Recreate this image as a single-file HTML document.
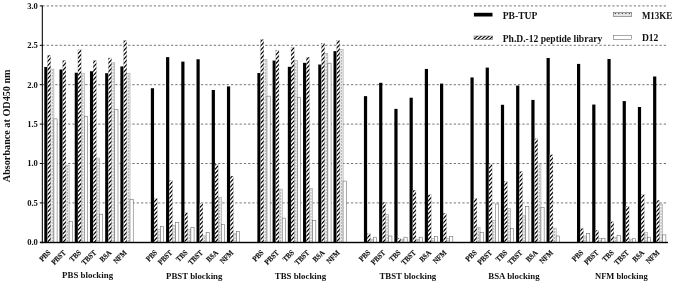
<!DOCTYPE html>
<html><head><meta charset="utf-8"><title>Absorbance chart</title>
<style>
html,body{margin:0;padding:0;background:#fff;}
body{width:675px;height:284px;overflow:hidden;}
svg{display:block;}
text{font-family:"Liberation Serif","DejaVu Serif",serif;font-weight:bold;fill:#111;}
</style></head><body>
<svg width="675" height="284" viewBox="0 0 675 284">
<defs>
<pattern id="hat" patternUnits="userSpaceOnUse" width="3.2" height="4.2">
<rect width="3.2" height="4.2" fill="#fff"/>
<path d="M-1.6,2.1 L1.6,-2.1 M-0.8,5.25 L4.0,-1.05 M1.6,6.300000000000001 L4.800000000000001,2.1" stroke="#000" stroke-width="1.0" shape-rendering="crispEdges"/>
</pattern>
<pattern id="dot" patternUnits="userSpaceOnUse" width="3.2" height="3.4" patternTransform="translate(1.15,0)">
<rect width="3.2" height="3.4" fill="#e6e6e6"/>
<rect x="1.25" y="1.2" width="0.7" height="1.0" fill="#666"/>
</pattern>
</defs>
<rect width="675" height="284" fill="#fff"/>

<line x1="42.4" y1="202.90" x2="667.3" y2="202.90" stroke="#666" stroke-width="0.9" stroke-dasharray="2.3,1.985"/>
<line x1="42.4" y1="163.50" x2="667.3" y2="163.50" stroke="#666" stroke-width="0.9" stroke-dasharray="2.3,1.985"/>
<line x1="42.4" y1="124.10" x2="667.3" y2="124.10" stroke="#666" stroke-width="0.9" stroke-dasharray="2.3,1.985"/>
<line x1="42.4" y1="84.70" x2="667.3" y2="84.70" stroke="#666" stroke-width="0.9" stroke-dasharray="2.3,1.985"/>
<line x1="42.4" y1="45.30" x2="667.3" y2="45.30" stroke="#666" stroke-width="0.9" stroke-dasharray="2.3,1.985"/>
<line x1="42.4" y1="5.90" x2="667.3" y2="5.90" stroke="#666" stroke-width="0.9" stroke-dasharray="2.3,1.985"/>
<rect x="44.30" y="66.97" width="3.20" height="175.33" fill="#000"/>
<rect x="50.70" y="69.10" width="3.20" height="173.20" fill="#eeeeee" stroke="#808080" stroke-width="0.45"/>
<line x1="52.30" y1="241.50" x2="52.30" y2="69.90" stroke="#666" stroke-width="0.7" stroke-dasharray="1.1,1.9"/>
<rect x="53.90" y="118.90" width="3.20" height="123.40" fill="#fff" stroke="#555" stroke-width="0.5"/>
<rect x="59.52" y="69.49" width="3.20" height="172.81" fill="#000"/>
<rect x="65.92" y="165.08" width="3.20" height="77.22" fill="#eeeeee" stroke="#808080" stroke-width="0.45"/>
<line x1="67.52" y1="241.50" x2="67.52" y2="165.88" stroke="#666" stroke-width="0.7" stroke-dasharray="1.1,1.9"/>
<rect x="69.12" y="221.34" width="3.20" height="20.96" fill="#fff" stroke="#555" stroke-width="0.5"/>
<rect x="74.74" y="72.72" width="3.20" height="169.58" fill="#000"/>
<rect x="81.14" y="73.20" width="3.20" height="169.10" fill="#eeeeee" stroke="#808080" stroke-width="0.45"/>
<line x1="82.74" y1="241.50" x2="82.74" y2="74.00" stroke="#666" stroke-width="0.7" stroke-dasharray="1.1,1.9"/>
<rect x="84.34" y="116.22" width="3.20" height="126.08" fill="#fff" stroke="#555" stroke-width="0.5"/>
<rect x="89.96" y="71.23" width="3.20" height="171.07" fill="#000"/>
<rect x="96.36" y="157.98" width="3.20" height="84.32" fill="#eeeeee" stroke="#808080" stroke-width="0.45"/>
<line x1="97.96" y1="241.50" x2="97.96" y2="158.78" stroke="#666" stroke-width="0.7" stroke-dasharray="1.1,1.9"/>
<rect x="99.56" y="214.17" width="3.20" height="28.13" fill="#fff" stroke="#555" stroke-width="0.5"/>
<rect x="105.18" y="73.20" width="3.20" height="169.10" fill="#000"/>
<rect x="111.58" y="62.87" width="3.20" height="179.43" fill="#eeeeee" stroke="#808080" stroke-width="0.45"/>
<line x1="113.18" y1="241.50" x2="113.18" y2="63.67" stroke="#666" stroke-width="0.7" stroke-dasharray="1.1,1.9"/>
<rect x="114.78" y="109.52" width="3.20" height="132.78" fill="#fff" stroke="#555" stroke-width="0.5"/>
<rect x="120.40" y="66.42" width="3.20" height="175.88" fill="#000"/>
<rect x="126.80" y="73.20" width="3.20" height="169.10" fill="#eeeeee" stroke="#808080" stroke-width="0.45"/>
<line x1="128.40" y1="241.50" x2="128.40" y2="74.00" stroke="#666" stroke-width="0.7" stroke-dasharray="1.1,1.9"/>
<rect x="130.00" y="199.51" width="3.20" height="42.79" fill="#fff" stroke="#555" stroke-width="0.5"/>
<rect x="150.84" y="88.25" width="3.20" height="154.05" fill="#000"/>
<rect x="157.24" y="229.69" width="3.20" height="12.61" fill="#eeeeee" stroke="#808080" stroke-width="0.45"/>
<line x1="158.84" y1="241.50" x2="158.84" y2="230.49" stroke="#666" stroke-width="0.7" stroke-dasharray="1.1,1.9"/>
<rect x="160.44" y="226.54" width="3.20" height="15.76" fill="#fff" stroke="#555" stroke-width="0.5"/>
<rect x="166.06" y="57.12" width="3.20" height="185.18" fill="#000"/>
<rect x="172.46" y="225.20" width="3.20" height="17.10" fill="#eeeeee" stroke="#808080" stroke-width="0.45"/>
<line x1="174.06" y1="241.50" x2="174.06" y2="226.00" stroke="#666" stroke-width="0.7" stroke-dasharray="1.1,1.9"/>
<rect x="175.66" y="222.60" width="3.20" height="19.70" fill="#fff" stroke="#555" stroke-width="0.5"/>
<rect x="181.28" y="61.61" width="3.20" height="180.69" fill="#000"/>
<rect x="187.68" y="229.69" width="3.20" height="12.61" fill="#eeeeee" stroke="#808080" stroke-width="0.45"/>
<line x1="189.28" y1="241.50" x2="189.28" y2="230.49" stroke="#666" stroke-width="0.7" stroke-dasharray="1.1,1.9"/>
<rect x="190.88" y="227.49" width="3.20" height="14.81" fill="#fff" stroke="#555" stroke-width="0.5"/>
<rect x="196.50" y="59.25" width="3.20" height="183.05" fill="#000"/>
<rect x="202.90" y="235.92" width="3.20" height="6.38" fill="#eeeeee" stroke="#808080" stroke-width="0.45"/>
<line x1="204.50" y1="241.50" x2="204.50" y2="236.72" stroke="#666" stroke-width="0.7" stroke-dasharray="1.1,1.9"/>
<rect x="206.10" y="232.29" width="3.20" height="10.01" fill="#fff" stroke="#555" stroke-width="0.5"/>
<rect x="211.72" y="89.98" width="3.20" height="152.32" fill="#000"/>
<rect x="218.12" y="197.31" width="3.20" height="44.99" fill="#eeeeee" stroke="#808080" stroke-width="0.45"/>
<line x1="219.72" y1="241.50" x2="219.72" y2="198.11" stroke="#666" stroke-width="0.7" stroke-dasharray="1.1,1.9"/>
<rect x="221.32" y="224.73" width="3.20" height="17.57" fill="#fff" stroke="#555" stroke-width="0.5"/>
<rect x="226.94" y="86.43" width="3.20" height="155.87" fill="#000"/>
<rect x="233.34" y="233.24" width="3.20" height="9.06" fill="#eeeeee" stroke="#808080" stroke-width="0.45"/>
<line x1="234.94" y1="241.50" x2="234.94" y2="234.04" stroke="#666" stroke-width="0.7" stroke-dasharray="1.1,1.9"/>
<rect x="236.54" y="231.43" width="3.20" height="10.87" fill="#fff" stroke="#555" stroke-width="0.5"/>
<rect x="257.38" y="73.04" width="3.20" height="169.26" fill="#000"/>
<rect x="263.78" y="59.72" width="3.20" height="182.58" fill="#eeeeee" stroke="#808080" stroke-width="0.45"/>
<line x1="265.38" y1="241.50" x2="265.38" y2="60.52" stroke="#666" stroke-width="0.7" stroke-dasharray="1.1,1.9"/>
<rect x="266.98" y="96.13" width="3.20" height="146.17" fill="#fff" stroke="#555" stroke-width="0.5"/>
<rect x="272.60" y="60.59" width="3.20" height="181.71" fill="#000"/>
<rect x="279.00" y="189.11" width="3.20" height="53.19" fill="#eeeeee" stroke="#808080" stroke-width="0.45"/>
<line x1="280.60" y1="241.50" x2="280.60" y2="189.91" stroke="#666" stroke-width="0.7" stroke-dasharray="1.1,1.9"/>
<rect x="282.20" y="218.11" width="3.20" height="24.19" fill="#fff" stroke="#555" stroke-width="0.5"/>
<rect x="287.82" y="66.81" width="3.20" height="175.49" fill="#000"/>
<rect x="294.22" y="60.59" width="3.20" height="181.71" fill="#eeeeee" stroke="#808080" stroke-width="0.45"/>
<line x1="295.82" y1="241.50" x2="295.82" y2="61.39" stroke="#666" stroke-width="0.7" stroke-dasharray="1.1,1.9"/>
<rect x="297.42" y="97.23" width="3.20" height="145.07" fill="#fff" stroke="#555" stroke-width="0.5"/>
<rect x="303.04" y="62.87" width="3.20" height="179.43" fill="#000"/>
<rect x="309.44" y="188.24" width="3.20" height="54.06" fill="#eeeeee" stroke="#808080" stroke-width="0.45"/>
<line x1="311.04" y1="241.50" x2="311.04" y2="189.04" stroke="#666" stroke-width="0.7" stroke-dasharray="1.1,1.9"/>
<rect x="312.64" y="220.39" width="3.20" height="21.91" fill="#fff" stroke="#555" stroke-width="0.5"/>
<rect x="318.26" y="64.53" width="3.20" height="177.77" fill="#000"/>
<rect x="324.66" y="53.42" width="3.20" height="188.88" fill="#eeeeee" stroke="#808080" stroke-width="0.45"/>
<line x1="326.26" y1="241.50" x2="326.26" y2="54.22" stroke="#666" stroke-width="0.7" stroke-dasharray="1.1,1.9"/>
<rect x="327.86" y="63.19" width="3.20" height="179.11" fill="#fff" stroke="#555" stroke-width="0.5"/>
<rect x="333.48" y="51.13" width="3.20" height="191.17" fill="#000"/>
<rect x="339.88" y="49.40" width="3.20" height="192.90" fill="#eeeeee" stroke="#808080" stroke-width="0.45"/>
<line x1="341.48" y1="241.50" x2="341.48" y2="50.20" stroke="#666" stroke-width="0.7" stroke-dasharray="1.1,1.9"/>
<rect x="343.08" y="181.07" width="3.20" height="61.23" fill="#fff" stroke="#555" stroke-width="0.5"/>
<rect x="363.92" y="96.13" width="3.20" height="146.17" fill="#000"/>
<rect x="370.32" y="239.15" width="3.20" height="3.15" fill="#eeeeee" stroke="#808080" stroke-width="0.45"/>
<line x1="371.92" y1="241.50" x2="371.92" y2="239.95" stroke="#666" stroke-width="0.7" stroke-dasharray="1.1,1.9"/>
<rect x="373.52" y="237.18" width="3.20" height="5.12" fill="#fff" stroke="#555" stroke-width="0.5"/>
<rect x="379.14" y="82.81" width="3.20" height="159.49" fill="#000"/>
<rect x="385.54" y="214.33" width="3.20" height="27.97" fill="#eeeeee" stroke="#808080" stroke-width="0.45"/>
<line x1="387.14" y1="241.50" x2="387.14" y2="215.13" stroke="#666" stroke-width="0.7" stroke-dasharray="1.1,1.9"/>
<rect x="388.74" y="236.00" width="3.20" height="6.30" fill="#fff" stroke="#555" stroke-width="0.5"/>
<rect x="394.36" y="108.89" width="3.20" height="133.41" fill="#000"/>
<rect x="400.76" y="239.15" width="3.20" height="3.15" fill="#eeeeee" stroke="#808080" stroke-width="0.45"/>
<line x1="402.36" y1="241.50" x2="402.36" y2="239.95" stroke="#666" stroke-width="0.7" stroke-dasharray="1.1,1.9"/>
<rect x="403.96" y="237.18" width="3.20" height="5.12" fill="#fff" stroke="#555" stroke-width="0.5"/>
<rect x="409.58" y="97.70" width="3.20" height="144.60" fill="#000"/>
<rect x="415.98" y="239.15" width="3.20" height="3.15" fill="#eeeeee" stroke="#808080" stroke-width="0.45"/>
<line x1="417.58" y1="241.50" x2="417.58" y2="239.95" stroke="#666" stroke-width="0.7" stroke-dasharray="1.1,1.9"/>
<rect x="419.18" y="237.18" width="3.20" height="5.12" fill="#fff" stroke="#555" stroke-width="0.5"/>
<rect x="424.80" y="68.94" width="3.20" height="173.36" fill="#000"/>
<rect x="431.20" y="238.36" width="3.20" height="3.94" fill="#eeeeee" stroke="#808080" stroke-width="0.45"/>
<line x1="432.80" y1="241.50" x2="432.80" y2="239.16" stroke="#666" stroke-width="0.7" stroke-dasharray="1.1,1.9"/>
<rect x="434.40" y="236.47" width="3.20" height="5.83" fill="#fff" stroke="#555" stroke-width="0.5"/>
<rect x="440.02" y="83.60" width="3.20" height="158.70" fill="#000"/>
<rect x="446.42" y="238.36" width="3.20" height="3.94" fill="#eeeeee" stroke="#808080" stroke-width="0.45"/>
<line x1="448.02" y1="241.50" x2="448.02" y2="239.16" stroke="#666" stroke-width="0.7" stroke-dasharray="1.1,1.9"/>
<rect x="449.62" y="236.47" width="3.20" height="5.83" fill="#fff" stroke="#555" stroke-width="0.5"/>
<rect x="470.46" y="77.45" width="3.20" height="164.85" fill="#000"/>
<rect x="476.86" y="227.33" width="3.20" height="14.97" fill="#eeeeee" stroke="#808080" stroke-width="0.45"/>
<line x1="478.46" y1="241.50" x2="478.46" y2="228.13" stroke="#666" stroke-width="0.7" stroke-dasharray="1.1,1.9"/>
<rect x="480.06" y="232.61" width="3.20" height="9.69" fill="#fff" stroke="#555" stroke-width="0.5"/>
<rect x="485.68" y="67.60" width="3.20" height="174.70" fill="#000"/>
<rect x="492.08" y="220.71" width="3.20" height="21.59" fill="#eeeeee" stroke="#808080" stroke-width="0.45"/>
<line x1="493.68" y1="241.50" x2="493.68" y2="221.51" stroke="#666" stroke-width="0.7" stroke-dasharray="1.1,1.9"/>
<rect x="495.28" y="204.00" width="3.20" height="38.30" fill="#fff" stroke="#555" stroke-width="0.5"/>
<rect x="500.90" y="104.79" width="3.20" height="137.51" fill="#000"/>
<rect x="507.30" y="208.57" width="3.20" height="33.73" fill="#eeeeee" stroke="#808080" stroke-width="0.45"/>
<line x1="508.90" y1="241.50" x2="508.90" y2="209.37" stroke="#666" stroke-width="0.7" stroke-dasharray="1.1,1.9"/>
<rect x="510.50" y="228.51" width="3.20" height="13.79" fill="#fff" stroke="#555" stroke-width="0.5"/>
<rect x="516.12" y="85.57" width="3.20" height="156.73" fill="#000"/>
<rect x="522.52" y="215.51" width="3.20" height="26.79" fill="#eeeeee" stroke="#808080" stroke-width="0.45"/>
<line x1="524.12" y1="241.50" x2="524.12" y2="216.31" stroke="#666" stroke-width="0.7" stroke-dasharray="1.1,1.9"/>
<rect x="525.72" y="206.29" width="3.20" height="36.01" fill="#fff" stroke="#555" stroke-width="0.5"/>
<rect x="531.34" y="99.91" width="3.20" height="142.39" fill="#000"/>
<rect x="537.74" y="163.89" width="3.20" height="78.41" fill="#eeeeee" stroke="#808080" stroke-width="0.45"/>
<line x1="539.34" y1="241.50" x2="539.34" y2="164.69" stroke="#666" stroke-width="0.7" stroke-dasharray="1.1,1.9"/>
<rect x="540.94" y="207.47" width="3.20" height="34.83" fill="#fff" stroke="#555" stroke-width="0.5"/>
<rect x="546.56" y="57.99" width="3.20" height="184.31" fill="#000"/>
<rect x="552.96" y="228.12" width="3.20" height="14.18" fill="#eeeeee" stroke="#808080" stroke-width="0.45"/>
<line x1="554.56" y1="241.50" x2="554.56" y2="228.92" stroke="#666" stroke-width="0.7" stroke-dasharray="1.1,1.9"/>
<rect x="556.16" y="236.00" width="3.20" height="6.30" fill="#fff" stroke="#555" stroke-width="0.5"/>
<rect x="577.00" y="63.90" width="3.20" height="178.40" fill="#000"/>
<rect x="583.40" y="236.00" width="3.20" height="6.30" fill="#eeeeee" stroke="#808080" stroke-width="0.45"/>
<line x1="585.00" y1="241.50" x2="585.00" y2="236.80" stroke="#666" stroke-width="0.7" stroke-dasharray="1.1,1.9"/>
<rect x="586.60" y="233.32" width="3.20" height="8.98" fill="#fff" stroke="#555" stroke-width="0.5"/>
<rect x="592.22" y="104.56" width="3.20" height="137.74" fill="#000"/>
<rect x="598.62" y="238.36" width="3.20" height="3.94" fill="#eeeeee" stroke="#808080" stroke-width="0.45"/>
<line x1="600.22" y1="241.50" x2="600.22" y2="239.16" stroke="#666" stroke-width="0.7" stroke-dasharray="1.1,1.9"/>
<rect x="601.82" y="238.36" width="3.20" height="3.94" fill="#fff" stroke="#555" stroke-width="0.5"/>
<rect x="607.44" y="59.01" width="3.20" height="183.29" fill="#000"/>
<rect x="613.84" y="237.18" width="3.20" height="5.12" fill="#eeeeee" stroke="#808080" stroke-width="0.45"/>
<line x1="615.44" y1="241.50" x2="615.44" y2="237.98" stroke="#666" stroke-width="0.7" stroke-dasharray="1.1,1.9"/>
<rect x="617.04" y="235.60" width="3.20" height="6.70" fill="#fff" stroke="#555" stroke-width="0.5"/>
<rect x="622.66" y="101.09" width="3.20" height="141.21" fill="#000"/>
<rect x="629.06" y="239.15" width="3.20" height="3.15" fill="#eeeeee" stroke="#808080" stroke-width="0.45"/>
<line x1="630.66" y1="241.50" x2="630.66" y2="239.95" stroke="#666" stroke-width="0.7" stroke-dasharray="1.1,1.9"/>
<rect x="632.26" y="238.75" width="3.20" height="3.55" fill="#fff" stroke="#555" stroke-width="0.5"/>
<rect x="637.88" y="107.00" width="3.20" height="135.30" fill="#000"/>
<rect x="644.28" y="232.21" width="3.20" height="10.09" fill="#eeeeee" stroke="#808080" stroke-width="0.45"/>
<line x1="645.88" y1="241.50" x2="645.88" y2="233.01" stroke="#666" stroke-width="0.7" stroke-dasharray="1.1,1.9"/>
<rect x="647.48" y="237.18" width="3.20" height="5.12" fill="#fff" stroke="#555" stroke-width="0.5"/>
<rect x="653.10" y="76.50" width="3.20" height="165.80" fill="#000"/>
<rect x="659.50" y="204.00" width="3.20" height="38.30" fill="#eeeeee" stroke="#808080" stroke-width="0.45"/>
<line x1="661.10" y1="241.50" x2="661.10" y2="204.80" stroke="#666" stroke-width="0.7" stroke-dasharray="1.1,1.9"/>
<rect x="662.70" y="234.89" width="3.20" height="7.41" fill="#fff" stroke="#555" stroke-width="0.5"/>
<clipPath id="hc"><rect x="47.50" y="55.23" width="3.20" height="187.07"/><rect x="62.72" y="60.59" width="3.20" height="181.71"/><rect x="77.94" y="49.87" width="3.20" height="192.43"/><rect x="93.16" y="60.59" width="3.20" height="181.71"/><rect x="108.38" y="57.91" width="3.20" height="184.39"/><rect x="123.60" y="40.57" width="3.20" height="201.73"/><rect x="154.04" y="198.57" width="3.20" height="43.73"/><rect x="169.26" y="180.60" width="3.20" height="61.70"/><rect x="184.48" y="212.75" width="3.20" height="29.55"/><rect x="199.70" y="203.37" width="3.20" height="38.93"/><rect x="214.92" y="164.21" width="3.20" height="78.09"/><rect x="230.14" y="176.11" width="3.20" height="66.19"/><rect x="260.58" y="39.55" width="3.20" height="202.75"/><rect x="275.80" y="50.42" width="3.20" height="191.88"/><rect x="291.02" y="47.19" width="3.20" height="195.11"/><rect x="306.24" y="57.36" width="3.20" height="184.94"/><rect x="321.46" y="43.33" width="3.20" height="198.97"/><rect x="336.68" y="40.49" width="3.20" height="201.81"/><rect x="367.12" y="233.79" width="3.20" height="8.51"/><rect x="382.34" y="202.19" width="3.20" height="40.11"/><rect x="397.56" y="238.36" width="3.20" height="3.94"/><rect x="412.78" y="190.29" width="3.20" height="52.01"/><rect x="428.00" y="194.86" width="3.20" height="47.44"/><rect x="443.22" y="213.14" width="3.20" height="29.16"/><rect x="473.66" y="198.33" width="3.20" height="43.97"/><rect x="488.88" y="164.29" width="3.20" height="78.01"/><rect x="504.10" y="181.47" width="3.20" height="60.83"/><rect x="519.32" y="171.62" width="3.20" height="70.68"/><rect x="534.54" y="138.76" width="3.20" height="103.54"/><rect x="549.76" y="154.83" width="3.20" height="87.47"/><rect x="580.20" y="228.51" width="3.20" height="13.79"/><rect x="595.42" y="230.32" width="3.20" height="11.98"/><rect x="610.64" y="221.65" width="3.20" height="20.65"/><rect x="625.86" y="206.29" width="3.20" height="36.01"/><rect x="641.08" y="194.39" width="3.20" height="47.91"/><rect x="656.30" y="200.14" width="3.20" height="42.16"/></clipPath>
<rect x="47.50" y="55.23" width="3.20" height="187.07" fill="#fff"/>
<rect x="62.72" y="60.59" width="3.20" height="181.71" fill="#fff"/>
<rect x="77.94" y="49.87" width="3.20" height="192.43" fill="#fff"/>
<rect x="93.16" y="60.59" width="3.20" height="181.71" fill="#fff"/>
<rect x="108.38" y="57.91" width="3.20" height="184.39" fill="#fff"/>
<rect x="123.60" y="40.57" width="3.20" height="201.73" fill="#fff"/>
<rect x="154.04" y="198.57" width="3.20" height="43.73" fill="#fff"/>
<rect x="169.26" y="180.60" width="3.20" height="61.70" fill="#fff"/>
<rect x="184.48" y="212.75" width="3.20" height="29.55" fill="#fff"/>
<rect x="199.70" y="203.37" width="3.20" height="38.93" fill="#fff"/>
<rect x="214.92" y="164.21" width="3.20" height="78.09" fill="#fff"/>
<rect x="230.14" y="176.11" width="3.20" height="66.19" fill="#fff"/>
<rect x="260.58" y="39.55" width="3.20" height="202.75" fill="#fff"/>
<rect x="275.80" y="50.42" width="3.20" height="191.88" fill="#fff"/>
<rect x="291.02" y="47.19" width="3.20" height="195.11" fill="#fff"/>
<rect x="306.24" y="57.36" width="3.20" height="184.94" fill="#fff"/>
<rect x="321.46" y="43.33" width="3.20" height="198.97" fill="#fff"/>
<rect x="336.68" y="40.49" width="3.20" height="201.81" fill="#fff"/>
<rect x="367.12" y="233.79" width="3.20" height="8.51" fill="#fff"/>
<rect x="382.34" y="202.19" width="3.20" height="40.11" fill="#fff"/>
<rect x="397.56" y="238.36" width="3.20" height="3.94" fill="#fff"/>
<rect x="412.78" y="190.29" width="3.20" height="52.01" fill="#fff"/>
<rect x="428.00" y="194.86" width="3.20" height="47.44" fill="#fff"/>
<rect x="443.22" y="213.14" width="3.20" height="29.16" fill="#fff"/>
<rect x="473.66" y="198.33" width="3.20" height="43.97" fill="#fff"/>
<rect x="488.88" y="164.29" width="3.20" height="78.01" fill="#fff"/>
<rect x="504.10" y="181.47" width="3.20" height="60.83" fill="#fff"/>
<rect x="519.32" y="171.62" width="3.20" height="70.68" fill="#fff"/>
<rect x="534.54" y="138.76" width="3.20" height="103.54" fill="#fff"/>
<rect x="549.76" y="154.83" width="3.20" height="87.47" fill="#fff"/>
<rect x="580.20" y="228.51" width="3.20" height="13.79" fill="#fff"/>
<rect x="595.42" y="230.32" width="3.20" height="11.98" fill="#fff"/>
<rect x="610.64" y="221.65" width="3.20" height="20.65" fill="#fff"/>
<rect x="625.86" y="206.29" width="3.20" height="36.01" fill="#fff"/>
<rect x="641.08" y="194.39" width="3.20" height="47.91" fill="#fff"/>
<rect x="656.30" y="200.14" width="3.20" height="42.16" fill="#fff"/>
<path clip-path="url(#hc)" d="M46.50,1137.70L660.50,460.73M46.50,1133.40L660.50,456.43M46.50,1129.10L660.50,452.13M46.50,1124.80L660.50,447.83M46.50,1120.50L660.50,443.53M46.50,1116.20L660.50,439.23M46.50,1111.90L660.50,434.93M46.50,1107.60L660.50,430.63M46.50,1103.30L660.50,426.33M46.50,1099.00L660.50,422.03M46.50,1094.70L660.50,417.73M46.50,1090.40L660.50,413.43M46.50,1086.10L660.50,409.13M46.50,1081.80L660.50,404.83M46.50,1077.50L660.50,400.53M46.50,1073.20L660.50,396.23M46.50,1068.90L660.50,391.93M46.50,1064.60L660.50,387.63M46.50,1060.30L660.50,383.33M46.50,1056.00L660.50,379.03M46.50,1051.70L660.50,374.73M46.50,1047.40L660.50,370.43M46.50,1043.10L660.50,366.13M46.50,1038.80L660.50,361.83M46.50,1034.50L660.50,357.53M46.50,1030.20L660.50,353.23M46.50,1025.90L660.50,348.93M46.50,1021.60L660.50,344.63M46.50,1017.30L660.50,340.33M46.50,1013.00L660.50,336.03M46.50,1008.70L660.50,331.73M46.50,1004.40L660.50,327.43M46.50,1000.10L660.50,323.13M46.50,995.80L660.50,318.83M46.50,991.50L660.50,314.53M46.50,987.20L660.50,310.23M46.50,982.90L660.50,305.93M46.50,978.60L660.50,301.63M46.50,974.30L660.50,297.33M46.50,970.00L660.50,293.03M46.50,965.70L660.50,288.73M46.50,961.40L660.50,284.43M46.50,957.10L660.50,280.13M46.50,952.80L660.50,275.83M46.50,948.50L660.50,271.53M46.50,944.20L660.50,267.23M46.50,939.90L660.50,262.93M46.50,935.60L660.50,258.63M46.50,931.30L660.50,254.33M46.50,927.00L660.50,250.03M46.50,922.70L660.50,245.73M46.50,918.40L660.50,241.43M46.50,914.10L660.50,237.13M46.50,909.80L660.50,232.83M46.50,905.50L660.50,228.53M46.50,901.20L660.50,224.23M46.50,896.90L660.50,219.93M46.50,892.60L660.50,215.63M46.50,888.30L660.50,211.33M46.50,884.00L660.50,207.03M46.50,879.70L660.50,202.73M46.50,875.40L660.50,198.43M46.50,871.10L660.50,194.13M46.50,866.80L660.50,189.83M46.50,862.50L660.50,185.53M46.50,858.20L660.50,181.23M46.50,853.90L660.50,176.93M46.50,849.60L660.50,172.63M46.50,845.30L660.50,168.33M46.50,841.00L660.50,164.03M46.50,836.70L660.50,159.73M46.50,832.40L660.50,155.43M46.50,828.10L660.50,151.13M46.50,823.80L660.50,146.83M46.50,819.50L660.50,142.53M46.50,815.20L660.50,138.23M46.50,810.90L660.50,133.93M46.50,806.60L660.50,129.63M46.50,802.30L660.50,125.33M46.50,798.00L660.50,121.03M46.50,793.70L660.50,116.73M46.50,789.40L660.50,112.43M46.50,785.10L660.50,108.13M46.50,780.80L660.50,103.83M46.50,776.50L660.50,99.53M46.50,772.20L660.50,95.23M46.50,767.90L660.50,90.93M46.50,763.60L660.50,86.63M46.50,759.30L660.50,82.33M46.50,755.00L660.50,78.03M46.50,750.70L660.50,73.73M46.50,746.40L660.50,69.43M46.50,742.10L660.50,65.13M46.50,737.80L660.50,60.83M46.50,733.50L660.50,56.53M46.50,729.20L660.50,52.23M46.50,724.90L660.50,47.93M46.50,720.60L660.50,43.63M46.50,716.30L660.50,39.33M46.50,712.00L660.50,35.03M46.50,707.70L660.50,30.73M46.50,703.40L660.50,26.43M46.50,699.10L660.50,22.13M46.50,694.80L660.50,17.83M46.50,690.50L660.50,13.53M46.50,686.20L660.50,9.23M46.50,681.90L660.50,4.93M46.50,677.60L660.50,0.63M46.50,673.30L660.50,-3.67M46.50,669.00L660.50,-7.97M46.50,664.70L660.50,-12.27M46.50,660.40L660.50,-16.57M46.50,656.10L660.50,-20.87M46.50,651.80L660.50,-25.17M46.50,647.50L660.50,-29.47M46.50,643.20L660.50,-33.77M46.50,638.90L660.50,-38.07M46.50,634.60L660.50,-42.37M46.50,630.30L660.50,-46.67M46.50,626.00L660.50,-50.97M46.50,621.70L660.50,-55.27M46.50,617.40L660.50,-59.57M46.50,613.10L660.50,-63.87M46.50,608.80L660.50,-68.17M46.50,604.50L660.50,-72.47M46.50,600.20L660.50,-76.77M46.50,595.90L660.50,-81.07M46.50,591.60L660.50,-85.37M46.50,587.30L660.50,-89.67M46.50,583.00L660.50,-93.97M46.50,578.70L660.50,-98.27M46.50,574.40L660.50,-102.57M46.50,570.10L660.50,-106.87M46.50,565.80L660.50,-111.17M46.50,561.50L660.50,-115.47M46.50,557.20L660.50,-119.77M46.50,552.90L660.50,-124.07M46.50,548.60L660.50,-128.37M46.50,544.30L660.50,-132.67M46.50,540.00L660.50,-136.97M46.50,535.70L660.50,-141.27M46.50,531.40L660.50,-145.57M46.50,527.10L660.50,-149.87M46.50,522.80L660.50,-154.17M46.50,518.50L660.50,-158.47M46.50,514.20L660.50,-162.77M46.50,509.90L660.50,-167.07M46.50,505.60L660.50,-171.37M46.50,501.30L660.50,-175.67M46.50,497.00L660.50,-179.97M46.50,492.70L660.50,-184.27M46.50,488.40L660.50,-188.57M46.50,484.10L660.50,-192.87M46.50,479.80L660.50,-197.17M46.50,475.50L660.50,-201.47M46.50,471.20L660.50,-205.77M46.50,466.90L660.50,-210.07M46.50,462.60L660.50,-214.37M46.50,458.30L660.50,-218.67M46.50,454.00L660.50,-222.97M46.50,449.70L660.50,-227.27M46.50,445.40L660.50,-231.57M46.50,441.10L660.50,-235.87M46.50,436.80L660.50,-240.17M46.50,432.50L660.50,-244.47M46.50,428.20L660.50,-248.77M46.50,423.90L660.50,-253.07M46.50,419.60L660.50,-257.37M46.50,415.30L660.50,-261.67M46.50,411.00L660.50,-265.97M46.50,406.70L660.50,-270.27M46.50,402.40L660.50,-274.57M46.50,398.10L660.50,-278.87M46.50,393.80L660.50,-283.17M46.50,389.50L660.50,-287.47M46.50,385.20L660.50,-291.77M46.50,380.90L660.50,-296.07M46.50,376.60L660.50,-300.37M46.50,372.30L660.50,-304.67M46.50,368.00L660.50,-308.97M46.50,363.70L660.50,-313.27M46.50,359.40L660.50,-317.57M46.50,355.10L660.50,-321.87M46.50,350.80L660.50,-326.17M46.50,346.50L660.50,-330.47M46.50,342.20L660.50,-334.77M46.50,337.90L660.50,-339.07M46.50,333.60L660.50,-343.37M46.50,329.30L660.50,-347.67M46.50,325.00L660.50,-351.97M46.50,320.70L660.50,-356.27M46.50,316.40L660.50,-360.57M46.50,312.10L660.50,-364.87M46.50,307.80L660.50,-369.17M46.50,303.50L660.50,-373.47M46.50,299.20L660.50,-377.77M46.50,294.90L660.50,-382.07M46.50,290.60L660.50,-386.37M46.50,286.30L660.50,-390.67M46.50,282.00L660.50,-394.97M46.50,277.70L660.50,-399.27M46.50,273.40L660.50,-403.57M46.50,269.10L660.50,-407.87M46.50,264.80L660.50,-412.17M46.50,260.50L660.50,-416.47M46.50,256.20L660.50,-420.77M46.50,251.90L660.50,-425.07M46.50,247.60L660.50,-429.37M46.50,243.30L660.50,-433.67M46.50,239.00L660.50,-437.97M46.50,234.70L660.50,-442.27M46.50,230.40L660.50,-446.57M46.50,226.10L660.50,-450.87M46.50,221.80L660.50,-455.17M46.50,217.50L660.50,-459.47M46.50,213.20L660.50,-463.77M46.50,208.90L660.50,-468.07M46.50,204.60L660.50,-472.37M46.50,200.30L660.50,-476.67M46.50,196.00L660.50,-480.97M46.50,191.70L660.50,-485.27M46.50,187.40L660.50,-489.57M46.50,183.10L660.50,-493.87M46.50,178.80L660.50,-498.17M46.50,174.50L660.50,-502.47M46.50,170.20L660.50,-506.77M46.50,165.90L660.50,-511.07M46.50,161.60L660.50,-515.37M46.50,157.30L660.50,-519.67M46.50,153.00L660.50,-523.97M46.50,148.70L660.50,-528.27M46.50,144.40L660.50,-532.57M46.50,140.10L660.50,-536.87M46.50,135.80L660.50,-541.17M46.50,131.50L660.50,-545.47M46.50,127.20L660.50,-549.77M46.50,122.90L660.50,-554.07M46.50,118.60L660.50,-558.37M46.50,114.30L660.50,-562.67M46.50,110.00L660.50,-566.97M46.50,105.70L660.50,-571.27M46.50,101.40L660.50,-575.57M46.50,97.10L660.50,-579.87M46.50,92.80L660.50,-584.17M46.50,88.50L660.50,-588.47M46.50,84.20L660.50,-592.77M46.50,79.90L660.50,-597.07M46.50,75.60L660.50,-601.37M46.50,71.30L660.50,-605.67M46.50,67.00L660.50,-609.97M46.50,62.70L660.50,-614.27M46.50,58.40L660.50,-618.57M46.50,54.10L660.50,-622.87M46.50,49.80L660.50,-627.17M46.50,45.50L660.50,-631.47M46.50,41.20L660.50,-635.77M46.50,36.90L660.50,-640.07" stroke="#000" stroke-width="1.2" fill="none"/>
<rect x="47.50" y="55.23" width="3.20" height="187.07" fill="none" stroke="#777" stroke-width="0.2"/>
<rect x="62.72" y="60.59" width="3.20" height="181.71" fill="none" stroke="#777" stroke-width="0.2"/>
<rect x="77.94" y="49.87" width="3.20" height="192.43" fill="none" stroke="#777" stroke-width="0.2"/>
<rect x="93.16" y="60.59" width="3.20" height="181.71" fill="none" stroke="#777" stroke-width="0.2"/>
<rect x="108.38" y="57.91" width="3.20" height="184.39" fill="none" stroke="#777" stroke-width="0.2"/>
<rect x="123.60" y="40.57" width="3.20" height="201.73" fill="none" stroke="#777" stroke-width="0.2"/>
<rect x="154.04" y="198.57" width="3.20" height="43.73" fill="none" stroke="#777" stroke-width="0.2"/>
<rect x="169.26" y="180.60" width="3.20" height="61.70" fill="none" stroke="#777" stroke-width="0.2"/>
<rect x="184.48" y="212.75" width="3.20" height="29.55" fill="none" stroke="#777" stroke-width="0.2"/>
<rect x="199.70" y="203.37" width="3.20" height="38.93" fill="none" stroke="#777" stroke-width="0.2"/>
<rect x="214.92" y="164.21" width="3.20" height="78.09" fill="none" stroke="#777" stroke-width="0.2"/>
<rect x="230.14" y="176.11" width="3.20" height="66.19" fill="none" stroke="#777" stroke-width="0.2"/>
<rect x="260.58" y="39.55" width="3.20" height="202.75" fill="none" stroke="#777" stroke-width="0.2"/>
<rect x="275.80" y="50.42" width="3.20" height="191.88" fill="none" stroke="#777" stroke-width="0.2"/>
<rect x="291.02" y="47.19" width="3.20" height="195.11" fill="none" stroke="#777" stroke-width="0.2"/>
<rect x="306.24" y="57.36" width="3.20" height="184.94" fill="none" stroke="#777" stroke-width="0.2"/>
<rect x="321.46" y="43.33" width="3.20" height="198.97" fill="none" stroke="#777" stroke-width="0.2"/>
<rect x="336.68" y="40.49" width="3.20" height="201.81" fill="none" stroke="#777" stroke-width="0.2"/>
<rect x="367.12" y="233.79" width="3.20" height="8.51" fill="none" stroke="#777" stroke-width="0.2"/>
<rect x="382.34" y="202.19" width="3.20" height="40.11" fill="none" stroke="#777" stroke-width="0.2"/>
<rect x="397.56" y="238.36" width="3.20" height="3.94" fill="none" stroke="#777" stroke-width="0.2"/>
<rect x="412.78" y="190.29" width="3.20" height="52.01" fill="none" stroke="#777" stroke-width="0.2"/>
<rect x="428.00" y="194.86" width="3.20" height="47.44" fill="none" stroke="#777" stroke-width="0.2"/>
<rect x="443.22" y="213.14" width="3.20" height="29.16" fill="none" stroke="#777" stroke-width="0.2"/>
<rect x="473.66" y="198.33" width="3.20" height="43.97" fill="none" stroke="#777" stroke-width="0.2"/>
<rect x="488.88" y="164.29" width="3.20" height="78.01" fill="none" stroke="#777" stroke-width="0.2"/>
<rect x="504.10" y="181.47" width="3.20" height="60.83" fill="none" stroke="#777" stroke-width="0.2"/>
<rect x="519.32" y="171.62" width="3.20" height="70.68" fill="none" stroke="#777" stroke-width="0.2"/>
<rect x="534.54" y="138.76" width="3.20" height="103.54" fill="none" stroke="#777" stroke-width="0.2"/>
<rect x="549.76" y="154.83" width="3.20" height="87.47" fill="none" stroke="#777" stroke-width="0.2"/>
<rect x="580.20" y="228.51" width="3.20" height="13.79" fill="none" stroke="#777" stroke-width="0.2"/>
<rect x="595.42" y="230.32" width="3.20" height="11.98" fill="none" stroke="#777" stroke-width="0.2"/>
<rect x="610.64" y="221.65" width="3.20" height="20.65" fill="none" stroke="#777" stroke-width="0.2"/>
<rect x="625.86" y="206.29" width="3.20" height="36.01" fill="none" stroke="#777" stroke-width="0.2"/>
<rect x="641.08" y="194.39" width="3.20" height="47.91" fill="none" stroke="#777" stroke-width="0.2"/>
<rect x="656.30" y="200.14" width="3.20" height="42.16" fill="none" stroke="#777" stroke-width="0.2"/>
<rect x="41.8" y="5.5" width="1.05" height="237.70" fill="#000"/>
<rect x="40" y="241.80" width="628" height="1.4" fill="#000"/>
<rect x="39.8" y="241.80" width="2.5" height="1" fill="#000"/>
<text x="37.9" y="245.15" font-size="8.6" text-anchor="end">0.0</text>
<rect x="39.8" y="202.40" width="2.5" height="1" fill="#000"/>
<text x="37.9" y="205.75" font-size="8.6" text-anchor="end">0.5</text>
<rect x="39.8" y="163.00" width="2.5" height="1" fill="#000"/>
<text x="37.9" y="166.35" font-size="8.6" text-anchor="end">1.0</text>
<rect x="39.8" y="123.60" width="2.5" height="1" fill="#000"/>
<text x="37.9" y="126.95" font-size="8.6" text-anchor="end">1.5</text>
<rect x="39.8" y="84.20" width="2.5" height="1" fill="#000"/>
<text x="37.9" y="87.55" font-size="8.6" text-anchor="end">2.0</text>
<rect x="39.8" y="44.80" width="2.5" height="1" fill="#000"/>
<text x="37.9" y="48.15" font-size="8.6" text-anchor="end">2.5</text>
<rect x="39.8" y="5.40" width="2.5" height="1" fill="#000"/>
<text x="37.9" y="8.75" font-size="8.6" text-anchor="end">3.0</text>
<text transform="translate(9.8,125.8) rotate(-90)" font-size="10.2" text-anchor="middle" textLength="112.8" lengthAdjust="spacingAndGlyphs">Absorbance at OD450 nm</text>
<text transform="translate(51.20,253.20) rotate(-45) scale(0.87,1)" font-size="7.8" stroke="#111" stroke-width="0.15" text-anchor="end">PBS</text>
<text transform="translate(66.42,253.20) rotate(-45) scale(0.87,1)" font-size="7.8" stroke="#111" stroke-width="0.15" text-anchor="end">PBST</text>
<text transform="translate(81.64,253.20) rotate(-45) scale(0.87,1)" font-size="7.8" stroke="#111" stroke-width="0.15" text-anchor="end">TBS</text>
<text transform="translate(96.86,253.20) rotate(-45) scale(0.87,1)" font-size="7.8" stroke="#111" stroke-width="0.15" text-anchor="end">TBST</text>
<text transform="translate(112.08,253.20) rotate(-45) scale(0.87,1)" font-size="7.8" stroke="#111" stroke-width="0.15" text-anchor="end">BSA</text>
<text transform="translate(127.30,253.20) rotate(-45) scale(0.87,1)" font-size="7.8" stroke="#111" stroke-width="0.15" text-anchor="end">NFM</text>
<text transform="translate(157.74,253.20) rotate(-45) scale(0.87,1)" font-size="7.8" stroke="#111" stroke-width="0.15" text-anchor="end">PBS</text>
<text transform="translate(172.96,253.20) rotate(-45) scale(0.87,1)" font-size="7.8" stroke="#111" stroke-width="0.15" text-anchor="end">PBST</text>
<text transform="translate(188.18,253.20) rotate(-45) scale(0.87,1)" font-size="7.8" stroke="#111" stroke-width="0.15" text-anchor="end">TBS</text>
<text transform="translate(203.40,253.20) rotate(-45) scale(0.87,1)" font-size="7.8" stroke="#111" stroke-width="0.15" text-anchor="end">TBST</text>
<text transform="translate(218.62,253.20) rotate(-45) scale(0.87,1)" font-size="7.8" stroke="#111" stroke-width="0.15" text-anchor="end">BSA</text>
<text transform="translate(233.84,253.20) rotate(-45) scale(0.87,1)" font-size="7.8" stroke="#111" stroke-width="0.15" text-anchor="end">NFM</text>
<text transform="translate(264.28,253.20) rotate(-45) scale(0.87,1)" font-size="7.8" stroke="#111" stroke-width="0.15" text-anchor="end">PBS</text>
<text transform="translate(279.50,253.20) rotate(-45) scale(0.87,1)" font-size="7.8" stroke="#111" stroke-width="0.15" text-anchor="end">PBST</text>
<text transform="translate(294.72,253.20) rotate(-45) scale(0.87,1)" font-size="7.8" stroke="#111" stroke-width="0.15" text-anchor="end">TBS</text>
<text transform="translate(309.94,253.20) rotate(-45) scale(0.87,1)" font-size="7.8" stroke="#111" stroke-width="0.15" text-anchor="end">TBST</text>
<text transform="translate(325.16,253.20) rotate(-45) scale(0.87,1)" font-size="7.8" stroke="#111" stroke-width="0.15" text-anchor="end">BSA</text>
<text transform="translate(340.38,253.20) rotate(-45) scale(0.87,1)" font-size="7.8" stroke="#111" stroke-width="0.15" text-anchor="end">NFM</text>
<text transform="translate(370.82,253.20) rotate(-45) scale(0.87,1)" font-size="7.8" stroke="#111" stroke-width="0.15" text-anchor="end">PBS</text>
<text transform="translate(386.04,253.20) rotate(-45) scale(0.87,1)" font-size="7.8" stroke="#111" stroke-width="0.15" text-anchor="end">PBST</text>
<text transform="translate(401.26,253.20) rotate(-45) scale(0.87,1)" font-size="7.8" stroke="#111" stroke-width="0.15" text-anchor="end">TBS</text>
<text transform="translate(416.48,253.20) rotate(-45) scale(0.87,1)" font-size="7.8" stroke="#111" stroke-width="0.15" text-anchor="end">TBST</text>
<text transform="translate(431.70,253.20) rotate(-45) scale(0.87,1)" font-size="7.8" stroke="#111" stroke-width="0.15" text-anchor="end">BSA</text>
<text transform="translate(446.92,253.20) rotate(-45) scale(0.87,1)" font-size="7.8" stroke="#111" stroke-width="0.15" text-anchor="end">NFM</text>
<text transform="translate(477.36,253.20) rotate(-45) scale(0.87,1)" font-size="7.8" stroke="#111" stroke-width="0.15" text-anchor="end">PBS</text>
<text transform="translate(492.58,253.20) rotate(-45) scale(0.87,1)" font-size="7.8" stroke="#111" stroke-width="0.15" text-anchor="end">PBST</text>
<text transform="translate(507.80,253.20) rotate(-45) scale(0.87,1)" font-size="7.8" stroke="#111" stroke-width="0.15" text-anchor="end">TBS</text>
<text transform="translate(523.02,253.20) rotate(-45) scale(0.87,1)" font-size="7.8" stroke="#111" stroke-width="0.15" text-anchor="end">TBST</text>
<text transform="translate(538.24,253.20) rotate(-45) scale(0.87,1)" font-size="7.8" stroke="#111" stroke-width="0.15" text-anchor="end">BSA</text>
<text transform="translate(553.46,253.20) rotate(-45) scale(0.87,1)" font-size="7.8" stroke="#111" stroke-width="0.15" text-anchor="end">NFM</text>
<text transform="translate(583.90,253.20) rotate(-45) scale(0.87,1)" font-size="7.8" stroke="#111" stroke-width="0.15" text-anchor="end">PBS</text>
<text transform="translate(599.12,253.20) rotate(-45) scale(0.87,1)" font-size="7.8" stroke="#111" stroke-width="0.15" text-anchor="end">PBST</text>
<text transform="translate(614.34,253.20) rotate(-45) scale(0.87,1)" font-size="7.8" stroke="#111" stroke-width="0.15" text-anchor="end">TBS</text>
<text transform="translate(629.56,253.20) rotate(-45) scale(0.87,1)" font-size="7.8" stroke="#111" stroke-width="0.15" text-anchor="end">TBST</text>
<text transform="translate(644.78,253.20) rotate(-45) scale(0.87,1)" font-size="7.8" stroke="#111" stroke-width="0.15" text-anchor="end">BSA</text>
<text transform="translate(660.00,253.20) rotate(-45) scale(0.87,1)" font-size="7.8" stroke="#111" stroke-width="0.15" text-anchor="end">NFM</text>
<text x="62.1" y="278.4" font-size="8.8" textLength="51.0" lengthAdjust="spacingAndGlyphs">PBS blocking</text>
<text x="166.1" y="278.5" font-size="8.8" textLength="56.3" lengthAdjust="spacingAndGlyphs">PBST blocking</text>
<text x="274.8" y="279.3" font-size="8.8" textLength="51.3" lengthAdjust="spacingAndGlyphs">TBS blocking</text>
<text x="379.4" y="278.5" font-size="8.8" textLength="56.9" lengthAdjust="spacingAndGlyphs">TBST blocking</text>
<text x="488.3" y="278.5" font-size="8.8" textLength="51.3" lengthAdjust="spacingAndGlyphs">BSA blocking</text>
<text x="595.0" y="278.5" font-size="8.8" textLength="52.7" lengthAdjust="spacingAndGlyphs">NFM blocking</text>
<rect x="473.9" y="12.8" width="18.6" height="3.7" fill="#000"/>
<clipPath id="lc"><rect x="474" y="36" width="18.7" height="3.6"/></clipPath>
<rect x="474" y="36" width="18.7" height="3.6" fill="#fff"/>
<path clip-path="url(#lc)" d="M468.90,40.2L474.50,35.4M472.80,40.2L478.40,35.4M476.70,40.2L482.30,35.4M480.60,40.2L486.20,35.4M484.50,40.2L490.10,35.4M488.40,40.2L494.00,35.4M492.30,40.2L497.90,35.4" stroke="#000" stroke-width="1.1" fill="none"/>
<rect x="474" y="36" width="18.7" height="3.6" fill="none" stroke="#555" stroke-width="0.5"/>
<rect x="613.3" y="12.3" width="18.4" height="4.2" fill="#e6e6e6" stroke="#666" stroke-width="0.6"/>
<line x1="614.8" y1="13.6" x2="631" y2="13.6" stroke="#333" stroke-width="1" stroke-dasharray="1.1,2.42"/>
<rect x="613.4" y="35.6" width="18.3" height="3.8" fill="#fff" stroke="#555" stroke-width="0.5"/>
<text x="502.7" y="18.6" font-size="9.6">PB-TUP</text>
<text x="502.7" y="41.6" font-size="9.6" textLength="99.6" lengthAdjust="spacingAndGlyphs">Ph.D.-12 peptide library</text>
<text x="641.9" y="18.6" font-size="9.6" textLength="30.3" lengthAdjust="spacingAndGlyphs">M13KE</text>
<text x="641.9" y="41.2" font-size="9.6">D12</text>
</svg></body></html>
